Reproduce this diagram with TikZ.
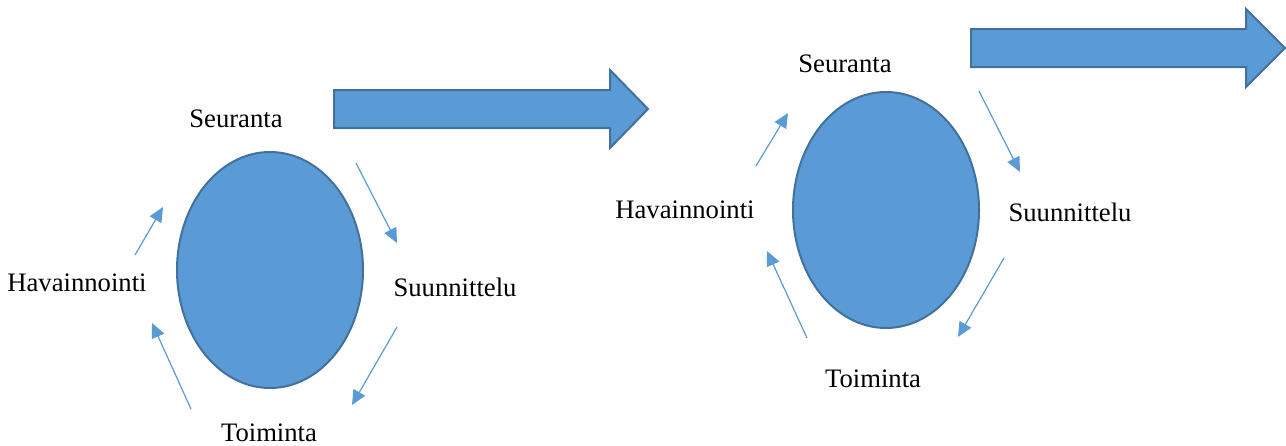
\documentclass[tikz,border=0pt]{standalone}
\usepackage{fontspec}
\setmainfont{Liberation Serif}
\usetikzlibrary{arrows.meta}
\usetikzlibrary{shapes.geometric}
\definecolor{cyclefill}{HTML}{5B9BD5}
\definecolor{cycleline}{HTML}{41719C}
\tikzset{
    >={Triangle[length=11pt,width=10pt]},
    phase/.style={ellipse, fill=cyclefill, draw=cycleline, line width=1.5pt,
        minimum width=139.5pt, minimum height=177pt, inner sep=0pt},
    steplabel/.style={font=\fontsize{20}{24}\selectfont, inner sep=0pt},
    flow/.style={->, draw=cyclefill, line width=0.9pt},
    bigarrow/.style={fill=cyclefill, draw=cycleline, line width=1.5pt, line join=miter},
}

\begin{document}
\begin{tikzpicture}[x=0.75pt, y=-0.75pt]
\useasboundingbox (0,0) rectangle (1286,446);
% first cycle
\node[phase] (ring1) at (270,270) {};
\node[steplabel] (seur1) at (236,119) {Seuranta};
\node[steplabel] (havn1) at (77,283) {Havainnointi};
\node[steplabel] (suun1) at (455,287) {Suunnittelu};
\node[steplabel] (toim1) at (269,433) {Toiminta};
\coordinate (a1s) at (135,255); \coordinate (a1e) at (163,207);
\coordinate (b1s) at (356,163); \coordinate (b1e) at (397,243);
\coordinate (c1s) at (397,327); \coordinate (c1e) at (352,405);
\coordinate (d1s) at (191,409); \coordinate (d1e) at (152,323);
\draw[flow] (a1s) -- (a1e);
\draw[flow] (b1s) -- (b1e);
\draw[flow] (c1s) -- (c1e);
\draw[flow] (d1s) -- (d1e);
\draw[bigarrow] (334,90) -- (610,90) -- (610,70) -- (648,109)
    -- (610,148) -- (610,128) -- (334,128) -- cycle;
% second cycle
\node[phase] (ring2) at (886,210) {};
\node[steplabel] (seur2) at (845,64) {Seuranta};
\node[steplabel] (havn2) at (685,210) {Havainnointi};
\node[steplabel] (suun2) at (1070,212) {Suunnittelu};
\node[steplabel] (toim2) at (873,379) {Toiminta};
\coordinate (a2s) at (756,166); \coordinate (a2e) at (788,113);
\coordinate (b2s) at (979,91); \coordinate (b2e) at (1020,172);
\coordinate (c2s) at (1004,258); \coordinate (c2e) at (958,337);
\coordinate (d2s) at (807,338); \coordinate (d2e) at (767,251);
\draw[flow] (a2s) -- (a2e);
\draw[flow] (b2s) -- (b2e);
\draw[flow] (c2s) -- (c2e);
\draw[flow] (d2s) -- (d2e);
\draw[bigarrow] (971,29) -- (1246,29) -- (1246,9) -- (1285,48)
    -- (1246,87) -- (1246,67) -- (971,67) -- cycle;
\end{tikzpicture}
\end{document}
